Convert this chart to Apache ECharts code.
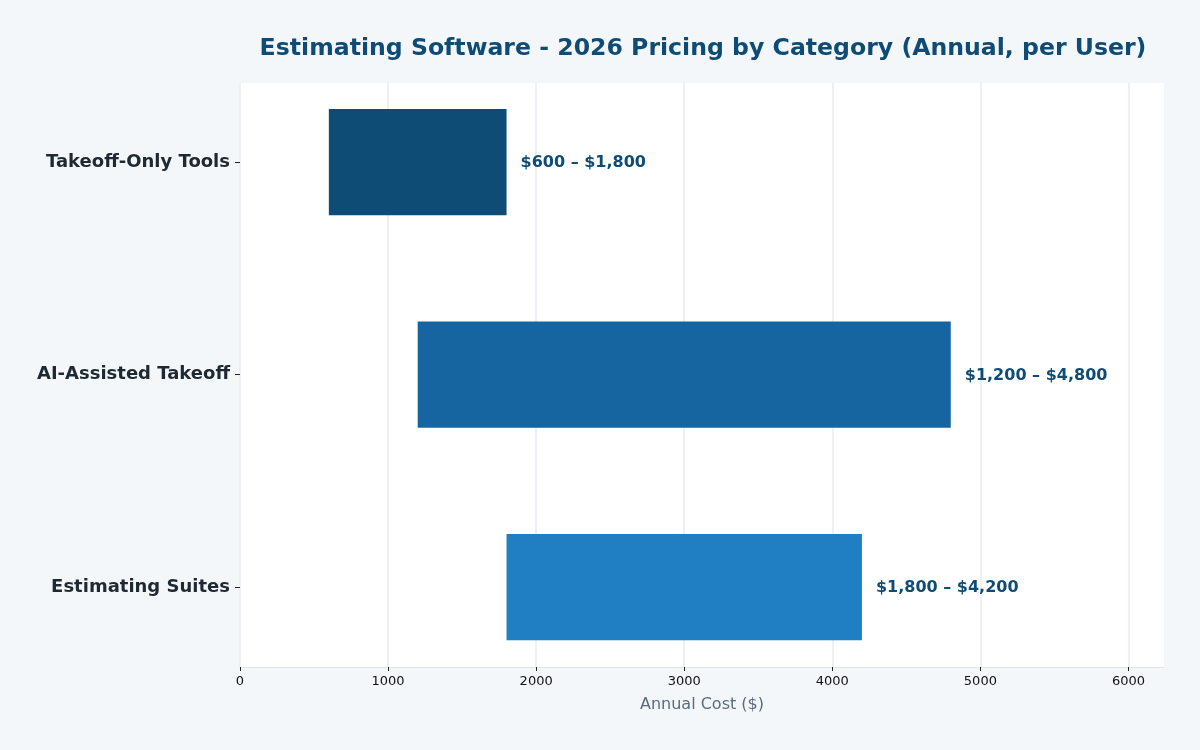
<!DOCTYPE html>
<html>
<head>
<meta charset="utf-8">
<script src="https://cdn.jsdelivr.net/npm/echarts@6/dist/echarts.min.js"></script>
<style>
  html, body { margin: 0; padding: 0; background: #f4f7fa; }
  #chart { width: 1200px; height: 750px; }
</style>
</head>
<body>
<div id="chart"></div>
<script>
// pricing data (annual cost per user, $)
const categories = ['Takeoff-Only Tools', 'AI-Assisted Takeoff', 'Estimating Suites'];
const lowCost = [600, 1200, 1800];
const highCost = [1800, 4800, 4200];
const barColors = ['#0f4c75', '#1665a0', '#1f7fc2'];
const xTicks = [0, 1000, 2000, 3000, 4000, 5000, 6000];

function money(v) {
    return '$' + v.toLocaleString('en-US');
}

const rows = categories.map((c, i) => [lowCost[i], highCost[i], i]);

var myChart = echarts.init(document.getElementById('chart'));
let option;
option = {
    backgroundColor: '#f4f7fa',
    textStyle: { fontFamily: 'DejaVu Sans' },
    title: {
        text: 'Estimating Software - 2026 Pricing by Category (Annual, per User)',
        left: 698,
        textAlign: 'center',
        top: 32,
        textStyle: { fontSize: 23.6, fontWeight: 'bold', color: '#0f4c75', fontFamily: 'DejaVu Sans' }
    },
    grid: {
        left: 240, right: 36, top: 83, bottom: 83,
        show: true, backgroundColor: '#ffffff', borderWidth: 0
    },
    xAxis: {
        type: 'value',
        min: 0,
        max: 6240,
        interval: 1000,
        name: 'Annual Cost ($)',
        nameLocation: 'middle',
        nameGap: 30,
        nameTextStyle: { fontSize: 16, color: '#5b6b7f' },
        axisLine: { show: true, onZero: false, lineStyle: { color: '#dfe5eb', width: 1 } },
        axisTick: { show: true, customValues: xTicks, length: 4, lineStyle: { color: '#222' } },
        axisLabel: { customValues: xTicks, formatter: v => String(v), fontSize: 13, color: '#111', margin: 8 },
        splitLine: { show: true, lineStyle: { color: '#edf1f5', width: 2 } }
    },
    yAxis: {
        type: 'value',
        inverse: true,
        min: -0.372,
        max: 2.376,
        axisLine: { show: false },
        axisTick: { show: true, customValues: [0, 1, 2], length: 5, lineStyle: { color: '#222' } },
        axisLabel: {
            customValues: [0, 1, 2],
            formatter: v => categories[Math.round(v)],
            fontSize: 18, fontWeight: 'bold', color: '#1f2933', margin: 10
        },
        splitLine: { show: false }
    },
    series: [{
        type: 'custom',
        data: rows,
        encode: { x: [0, 1], y: 2 },
        renderItem: function (params, api) {
            const i = api.value(2);
            const start = api.coord([api.value(0), i]);
            const end = api.coord([api.value(1), i]);
            const h = api.size([0, 0.5])[1];
            return {
                type: 'group',
                children: [{
                    type: 'rect',
                    shape: { x: start[0], y: start[1] - h / 2, width: end[0] - start[0], height: h },
                    style: { fill: barColors[i] }
                }, {
                    type: 'text',
                    x: end[0] + 14,
                    y: end[1] + 1,
                    style: {
                        text: money(api.value(0)) + ' – ' + money(api.value(1)),
                        fill: '#0f4c75',
                        font: 'bold 16px "DejaVu Sans"',
                        verticalAlign: 'middle',
                        align: 'left'
                    }
                }]
            };
        }
    }]
};
myChart.setOption(option);
</script>
</body>
</html>
